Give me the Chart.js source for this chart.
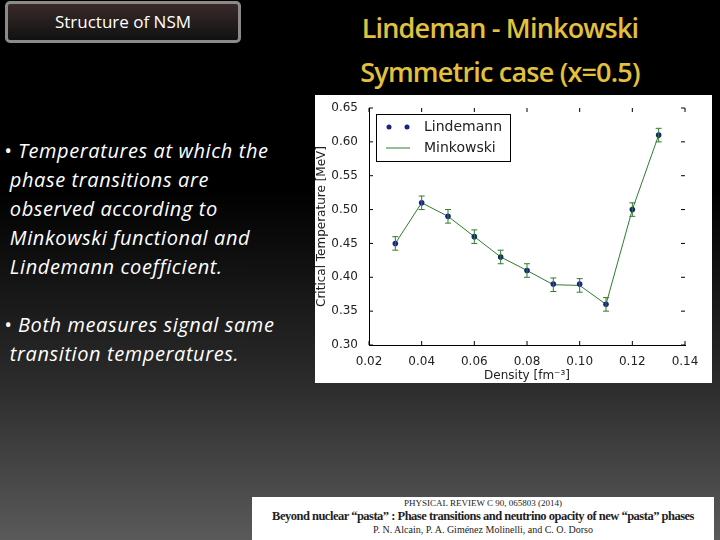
<!DOCTYPE html>
<html><head><meta charset="utf-8">
<script src="https://cdn.jsdelivr.net/npm/chart.js@4"></script>
<style>
body{margin:0;width:720px;height:540px;overflow:hidden;background:linear-gradient(#000 0%,#000 35%,#2a2a2a 70%,#5a5a5a 100%);font-family:"Open Sans",sans-serif;position:relative}
#box{position:absolute;left:5px;top:1px;width:236px;height:42px;border:3px solid #8a8a8a;border-radius:5px;background:linear-gradient(#3a2a2a,#111);color:#fff;font-size:17px;text-align:center;line-height:36px;box-sizing:border-box}
#title{position:absolute;left:320px;top:6px;width:360px;text-align:center;color:#e2c13c;font-size:27px;line-height:44px;font-weight:600;letter-spacing:-0.8px;white-space:nowrap}
.b{position:absolute;left:4px;color:#fff;font-size:20px;font-style:italic;line-height:29px;letter-spacing:0.6px;white-space:nowrap}
#panel{position:absolute;left:315px;top:95px;width:397px;height:288px;background:#fff}
#ref{position:absolute;left:252px;top:497px;width:462px;height:43px;background:#fff;text-align:center;font-family:"Liberation Serif",serif;color:#222;line-height:13px;white-space:nowrap;overflow:hidden}
</style></head><body>
<div id="box">Structure of NSM</div>
<div id="title">Lindeman - Minkowski<br>Symmetric case (x=0.5)</div>
<div class="b" style="top:136px">• Temperatures at which the<br>&nbsp;phase transitions are<br>&nbsp;observed according to<br>&nbsp;Minkowski functional and<br>&nbsp;Lindemann coefficient.</div>
<div class="b" style="top:310px">• Both measures signal same<br>&nbsp;transition temperatures.</div>
<div id="panel"><canvas id="c" width="397" height="288"></canvas></div>
<div id="ref"><div style="font-size:9px">PHYSICAL REVIEW C 90, 065803 (2014)</div><div style="font-size:12.5px;font-weight:bold;letter-spacing:-0.5px">Beyond nuclear “pasta” : Phase transitions and neutrino opacity of new “pasta” phases</div><div style="font-size:10px">P. N. Alcain, P. A. Giménez Molinelli, and C. O. Dorso</div></div>
<script>
const density=[0.03,0.04,0.05,0.06,0.07,0.08,0.09,0.10,0.11,0.12,0.13];
const lindemann=[0.45,0.51,0.49,0.46,0.43,0.41,0.39,0.39,0.36,0.50,0.61];
const minkowski=[0.45,0.51,0.49,0.46,0.43,0.41,0.389,0.388,0.36,0.50,0.61];
const errors=[0.01,0.01,0.01,0.01,0.01,0.01,0.01,0.01,0.01,0.01,0.01];
const xTicks=['0.02','0.04','0.06','0.08','0.10','0.12','0.14'];
const extras={id:'extras',
 afterDatasetsDraw(ch){const c=ch.ctx,x=ch.scales.x,y=ch.scales.y,a=ch.chartArea;
  c.save();c.strokeStyle='#2e7d2e';c.lineWidth=1;
  density.forEach((d,i)=>{const px=x.getPixelForValue(d),t=y.getPixelForValue(minkowski[i]+errors[i]),b=y.getPixelForValue(minkowski[i]-errors[i]);
   c.beginPath();c.moveTo(px,t);c.lineTo(px,b);c.moveTo(px-3,t);c.lineTo(px+3,t);c.moveTo(px-3,b);c.lineTo(px+3,b);c.stroke();});
  c.strokeStyle='#000';
  for(let v=0.02;v<=0.1401;v+=0.02){const px=x.getPixelForValue(v);c.beginPath();c.moveTo(px,a.bottom);c.lineTo(px,a.bottom-4);c.moveTo(px,a.top);c.lineTo(px,a.top+4);c.stroke();}
  for(let v=0.30;v<=0.6501;v+=0.05){const py=y.getPixelForValue(v);c.beginPath();c.moveTo(a.left,py);c.lineTo(a.left+4,py);c.moveTo(a.right,py);c.lineTo(a.right-4,py);c.stroke();}
  const lx=a.left+7,ly=a.top+6;c.fillStyle='#fff';c.fillRect(lx,ly,134,47);c.strokeRect(lx+0.5,ly+0.5,134,47);
  c.fillStyle='#1a237e';[lx+13,lx+31].forEach(p=>{c.beginPath();c.arc(p,ly+13,2.5,0,7);c.fill();});
  c.strokeStyle='#2e7d2e';c.beginPath();c.moveTo(lx+10,ly+34);c.lineTo(lx+34,ly+34);c.stroke();
  c.fillStyle='#222';c.font='14px "DejaVu Sans"';c.textBaseline='middle';c.fillText('Lindemann',lx+48,ly+13);c.fillText('Minkowski',lx+48,ly+34);
  c.restore();}};
new Chart(document.getElementById('c'),{type:'scatter',
 data:{datasets:[
  {label:'Lindemann',data:density.map((d,i)=>({x:d,y:lindemann[i]})),showLine:false,pointRadius:2.8,pointBackgroundColor:'#1a237e',pointBorderWidth:0,order:0},
  {label:'Minkowski',data:density.map((d,i)=>({x:d,y:minkowski[i]})),showLine:true,borderColor:'#2e7d2e',borderWidth:1,pointRadius:0,order:1}]},
 options:{responsive:false,animation:false,events:[],layout:{padding:{top:13,right:27,left:0,bottom:0}},
  plugins:{legend:{display:false},tooltip:{enabled:false}},
  scales:{
   x:{min:0.02,max:0.14,afterFit(s){s.height=38;},border:{color:'#000'},grid:{display:false},
    ticks:{stepSize:0.02,color:'#222',font:{size:12,family:'DejaVu Sans'},padding:2,callback:(v,i)=>xTicks[i]},
    title:{display:true,text:'Density [fm⁻³]',color:'#222',font:{size:12,family:'DejaVu Sans'},padding:0}},
   y:{min:0.30,max:0.65,afterFit(s){s.width=54;},border:{color:'#000'},grid:{display:false},
    ticks:{stepSize:0.05,color:'#222',font:{size:12,family:'DejaVu Sans'},padding:3,callback:v=>v.toFixed(2)},
    title:{display:true,text:'Critical Temperature [MeV]',color:'#222',font:{size:12,family:'DejaVu Sans'},padding:0}}}},
 plugins:[extras]});
</script></body></html>
